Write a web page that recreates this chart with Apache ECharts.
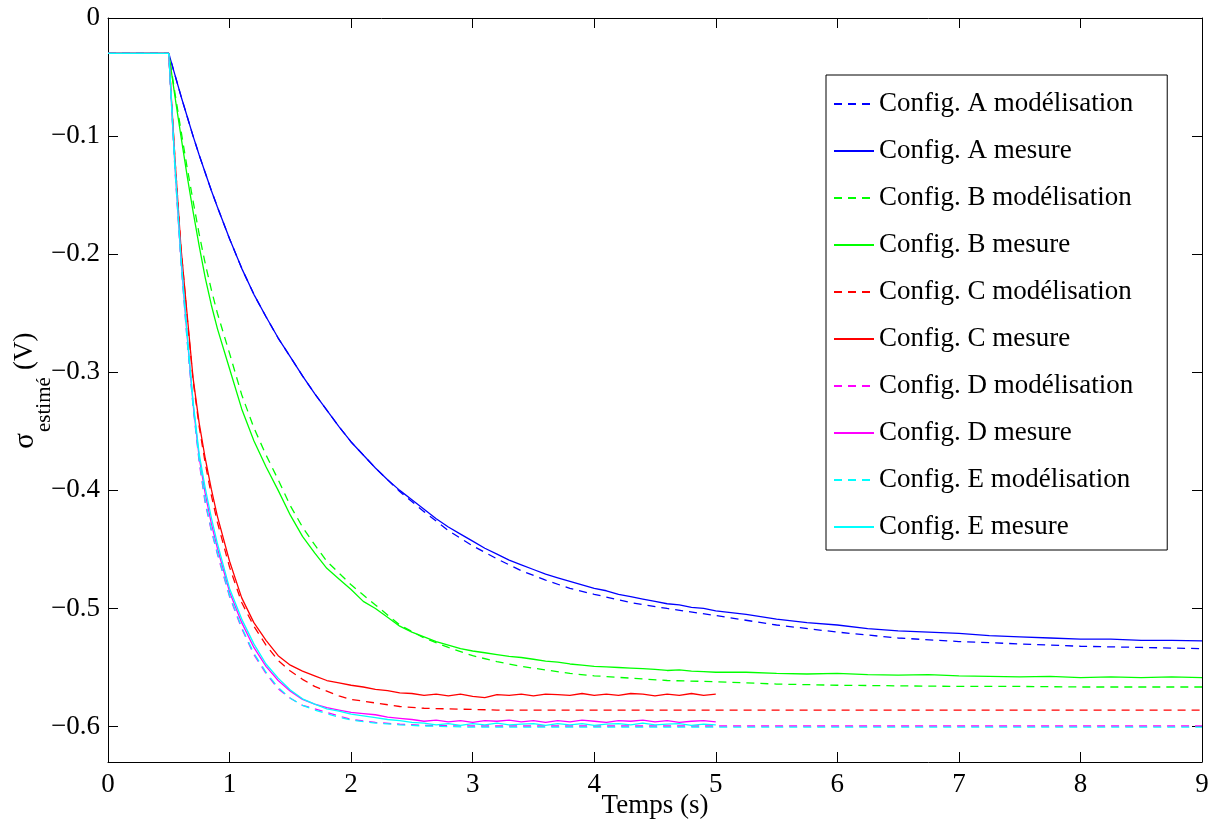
<!DOCTYPE html>
<html><head><meta charset="utf-8">
<script src="https://cdn.jsdelivr.net/npm/echarts@6/dist/echarts.min.js"></script>
<style>html,body{margin:0;padding:0;background:#fff;overflow:hidden}#c{width:1215px;height:821px}</style>
</head><body><div id="c"></div>
<script>
// time grids (s)
const tMod = [0,0.5,0.55,0.6,0.65,0.7,0.75,0.8,0.85,0.9,
  1.0,1.1,1.2,1.3,1.4,1.5,1.6,1.7,1.8,1.9,2.0,
  2.2,2.4,2.6,2.8,3.0,3.2,3.4,3.6,3.8,4.0,4.3,4.6,5.0,5.5,6.0,6.5,7.0,7.5,8.0,8.5,9.0];
const tMes5 = [0,0.5,0.55,0.6,0.65,0.7,0.75,0.8,0.85,0.9,
  1.0,1.1,1.2,1.3,1.4,1.5,1.6,1.7,1.8,1.9,
  2.0,2.1,2.2,2.3,2.4,2.5,2.6,2.7,2.8,2.9,
  3.0,3.1,3.2,3.3,3.4,3.5,3.6,3.7,3.8,3.9,
  4.0,4.1,4.2,4.3,4.4,4.5,4.6,4.7,4.8,4.9,5.0];
const tMes9 = tMes5.concat([5.25,5.5,5.75,6.0,6.25,6.5,6.75,7.0,7.25,7.5,7.75,8.0,8.25,8.5,8.75,9.0]);

// Config A
const aModel = [-0.03,-0.03,-0.048,-0.066,-0.083,-0.100,-0.116,-0.131,-0.146,-0.160,
  -0.187,-0.212,-0.234,-0.253,-0.271,-0.287,-0.303,-0.318,-0.332,-0.346,-0.359,
  -0.381,-0.401,-0.418,-0.434,-0.447,-0.458,-0.468,-0.476,-0.483,-0.488,-0.495,-0.500,-0.506,-0.514,-0.520,-0.525,-0.528,-0.530,-0.532,-0.533,-0.534];
const aMes = [-0.03,-0.03,-0.048,-0.066,-0.083,-0.100,-0.116,-0.131,-0.146,-0.160,
  -0.187,-0.212,-0.234,-0.253,-0.271,-0.287,-0.303,-0.318,-0.332,-0.346,
  -0.359,-0.370,-0.381,-0.391,-0.400,-0.408,-0.416,-0.424,-0.431,-0.437,
  -0.443,-0.449,-0.454,-0.459,-0.463,-0.467,-0.471,-0.474,-0.477,-0.480,
  -0.483,-0.485,-0.488,-0.490,-0.492,-0.494,-0.496,-0.497,-0.499,-0.500,
  -0.502,
  -0.505,-0.509,-0.512,-0.514,-0.517,-0.519,-0.520,-0.521,-0.523,-0.524,-0.525,-0.526,-0.526,-0.527,-0.527,-0.5275];
// Config B
const bModel = [-0.03,-0.03,-0.063,-0.095,-0.126,-0.155,-0.183,-0.208,-0.230,-0.250,
  -0.284,-0.319,-0.347,-0.370,-0.391,-0.413,-0.431,-0.446,-0.460,-0.470,-0.480,
  -0.497,-0.514,-0.525,-0.533,-0.540,-0.545,-0.549,-0.552,-0.555,-0.557,-0.559,-0.561,-0.562,-0.564,-0.565,-0.5655,-0.566,-0.566,-0.5665,-0.5665,-0.5665];
const bMes = [-0.03,-0.03,-0.066,-0.100,-0.133,-0.164,-0.193,-0.220,-0.243,-0.263,
  -0.297,-0.331,-0.358,-0.380,-0.400,-0.421,-0.439,-0.453,-0.466,-0.475,
  -0.484,-0.494,-0.500,-0.5075,-0.515,-0.520,-0.524,-0.528,-0.531,-0.534,
  -0.536,-0.5375,-0.539,-0.5405,-0.5415,-0.543,-0.5445,-0.5455,-0.547,-0.548,
  -0.549,-0.5495,-0.550,-0.5505,-0.551,-0.5515,-0.5525,-0.552,-0.553,-0.5535,
  -0.554,
  -0.554,-0.555,-0.5555,-0.555,-0.556,-0.5565,-0.556,-0.557,-0.5575,-0.558,-0.5575,-0.5585,-0.558,-0.5585,-0.558,-0.5585];
// Config C
const cModel = [-0.03,-0.03,-0.118,-0.194,-0.252,-0.307,-0.346,-0.377,-0.404,-0.427,
  -0.465,-0.495,-0.515,-0.531,-0.544,-0.553,-0.560,-0.566,-0.570,-0.574,-0.577,
  -0.580,-0.583,-0.5845,-0.585,-0.5855,-0.586,-0.586,-0.586,-0.586,-0.586,-0.586,-0.586,-0.586,-0.586,-0.586,-0.586,-0.586,-0.586,-0.586,-0.586,-0.586];
const cMes = [-0.03,-0.03,-0.118,-0.194,-0.250,-0.305,-0.343,-0.373,-0.399,-0.422,
  -0.460,-0.491,-0.512,-0.527,-0.540,-0.548,-0.553,-0.557,-0.561,-0.563,
  -0.565,-0.5665,-0.5685,-0.5695,-0.5715,-0.572,-0.5735,-0.5725,-0.574,-0.5725,
  -0.5745,-0.5755,-0.573,-0.5735,-0.5725,-0.574,-0.5725,-0.573,-0.5735,-0.572,
  -0.5735,-0.5725,-0.5735,-0.572,-0.5725,-0.574,-0.5725,-0.5735,-0.572,-0.5735,
  -0.5725];
// Config D
const dModel = [-0.03,-0.03,-0.127,-0.206,-0.272,-0.329,-0.376,-0.411,-0.434,-0.454,
  -0.490,-0.517,-0.539,-0.555,-0.568,-0.576,-0.582,-0.585,-0.588,-0.591,-0.594,
  -0.5965,-0.598,-0.599,-0.5993,-0.5995,-0.5995,-0.5995,-0.5995,-0.5995,-0.5995,-0.5995,-0.5995,-0.5995,-0.5995,-0.5995,-0.5995,-0.5995,-0.5995,-0.5995,-0.5995,-0.5995];
const dMes = [-0.03,-0.03,-0.124,-0.203,-0.268,-0.327,-0.372,-0.403,-0.428,-0.449,
  -0.486,-0.512,-0.533,-0.549,-0.561,-0.570,-0.577,-0.581,-0.584,-0.586,
  -0.588,-0.589,-0.590,-0.592,-0.593,-0.594,-0.5955,-0.5945,-0.596,-0.595,
  -0.5965,-0.595,-0.5955,-0.5945,-0.596,-0.595,-0.5965,-0.595,-0.596,-0.5945,
  -0.5955,-0.5965,-0.595,-0.5955,-0.5945,-0.596,-0.595,-0.5965,-0.5955,-0.595,
  -0.596];
// Config E
const eModel = [-0.03,-0.03,-0.126,-0.205,-0.271,-0.328,-0.374,-0.409,-0.433,-0.453,
  -0.489,-0.516,-0.538,-0.554,-0.567,-0.576,-0.582,-0.586,-0.589,-0.592,-0.5945,
  -0.597,-0.5985,-0.5995,-0.600,-0.6005,-0.6005,-0.6005,-0.6005,-0.6005,-0.6005,-0.6005,-0.6005,-0.6005,-0.6005,-0.6005,-0.6005,-0.6005,-0.6005,-0.6005,-0.6005,-0.6005];
const eMes = [-0.03,-0.03,-0.123,-0.202,-0.266,-0.325,-0.369,-0.398,-0.423,-0.445,
  -0.483,-0.509,-0.530,-0.547,-0.559,-0.569,-0.5765,-0.581,-0.585,-0.587,
  -0.5895,-0.591,-0.5925,-0.594,-0.595,-0.5965,-0.597,-0.5985,-0.5975,-0.599,
  -0.5975,-0.5985,-0.597,-0.5985,-0.598,-0.5975,-0.599,-0.5975,-0.5985,-0.5975,
  -0.599,-0.598,-0.5975,-0.5985,-0.597,-0.5985,-0.598,-0.5975,-0.599,-0.598,
  -0.5985];

const seriesNames = ['Config. A modélisation','Config. A mesure','Config. B modélisation','Config. B mesure',
  'Config. C modélisation','Config. C mesure','Config. D modélisation','Config. D mesure',
  'Config. E modélisation','Config. E mesure'];
const xTicks = [0,1,2,3,4,5,6,7,8,9];
const yTicks = [0,-0.1,-0.2,-0.3,-0.4,-0.5,-0.6];
const yNameMain = 'σ', yNameSub = 'estimé', yNameUnit = '(V)';

const FONT = "'Liberation Serif', 'Times New Roman', serif";
function pairs(t, v){ const n = Math.min(t.length, v.length); const out = []; for (let i = 0; i < n; i++) out.push([t[i], v[i]]); return out; }

const defs = [
  [tMod, aModel, '#0000ff', true], [tMes9, aMes, '#0000ff', false],
  [tMod, bModel, '#00ff00', true], [tMes9, bMes, '#00ff00', false],
  [tMod, cModel, '#ff0000', true], [tMes5, cMes, '#ff0000', false],
  [tMod, dModel, '#ff00ff', true], [tMes5, dMes, '#ff00ff', false],
  [tMod, eModel, '#00ffff', true], [tMes5, eMes, '#00ffff', false]
];
const series = defs.map((d, i) => ({
  name: seriesNames[i], type: 'line', data: pairs(d[0], d[1]),
  showSymbol: false, symbol: 'none', smooth: false, animation: false,
  color: d[2],
  lineStyle: { color: d[2], width: 1.3, type: d[3] ? [8, 6] : 'solid' },
  itemStyle: { color: d[2] },
  emphasis: { disabled: true }
}));

const axisCommon = {
  axisLine: { show: true, onZero: false, lineStyle: { color: '#000', width: 1 } },
  axisTick: { show: true, inside: true, length: 10, lineStyle: { color: '#000', width: 1 } },
  splitLine: { show: false }
};
const yFmt = v => (Math.abs(v) < 1e-9 ? '0' : '\u2212' + Math.abs(v).toFixed(1));

const chart = echarts.init(document.getElementById('c'), null, { renderer: 'canvas', width: 1215, height: 821 });
chart.setOption({
  animation: false,
  backgroundColor: '#fff',
  grid: { left: 108, right: 13, top: 18, bottom: 59, containLabel: false, outerBoundsMode: 'none' },
  xAxis: [
    Object.assign({}, axisCommon, {
      type: 'value', min: 0, max: 9, interval: 1, position: 'bottom',
      name: 'Temps (s)', nameLocation: 'middle', nameGap: 30, nameMoveOverlap: false,
      nameTextStyle: { fontFamily: FONT, fontSize: 27, color: '#000' },
      axisLabel: { show: true, margin: 9, fontFamily: FONT, fontSize: 27, color: '#000',
        customValues: xTicks, formatter: v => String(v) }
    }),
    Object.assign({}, axisCommon, {
      type: 'value', min: 0, max: 9, interval: 1, position: 'top',
      axisLabel: { show: false }
    })
  ],
  yAxis: [
    Object.assign({}, axisCommon, {
      type: 'value', min: -0.63, max: 0, position: 'left',
      axisTick: Object.assign({}, axisCommon.axisTick, { customValues: yTicks }),
      axisLabel: { show: true, margin: 8, fontFamily: FONT, fontSize: 27, color: '#000',
        customValues: yTicks, formatter: yFmt }
    }),
    Object.assign({}, axisCommon, {
      type: 'value', min: -0.63, max: 0, position: 'right',
      axisTick: Object.assign({}, axisCommon.axisTick, { customValues: yTicks }),
      axisLabel: { show: false }
    })
  ],
  graphic: [
    { type: 'text', x: 25, y: 441, rotation: Math.PI / 2, silent: true,
      style: { text: yNameMain, fontFamily: FONT, fontSize: 29, fill: '#000', align: 'center', verticalAlign: 'middle' } },
    { type: 'text', x: 44, y: 432, rotation: Math.PI / 2, silent: true,
      style: { text: yNameSub, fontFamily: FONT, fontSize: 21, fill: '#000', align: 'left', verticalAlign: 'middle' } },
    { type: 'text', x: 25, y: 370, rotation: Math.PI / 2, silent: true,
      style: { text: yNameUnit, fontFamily: FONT, fontSize: 27, fill: '#000', align: 'left', verticalAlign: 'middle' } }
  ],
  legend: {
    show: true, orient: 'vertical', left: 826, top: 75,
    padding: [14, 34, 8, 7], itemGap: 17, itemWidth: 40, itemHeight: 14,
    backgroundColor: '#fff', borderColor: '#000', borderWidth: 1, borderRadius: 0,
    data: seriesNames,
    itemStyle: { opacity: 0, color: 'rgba(0,0,0,0)', borderWidth: 0 },
    textStyle: { fontFamily: FONT, fontSize: 27, color: '#000', lineHeight: 30 },
    selectedMode: false
  },
  tooltip: { show: false },
  series: series
});
</script>
</body></html>
